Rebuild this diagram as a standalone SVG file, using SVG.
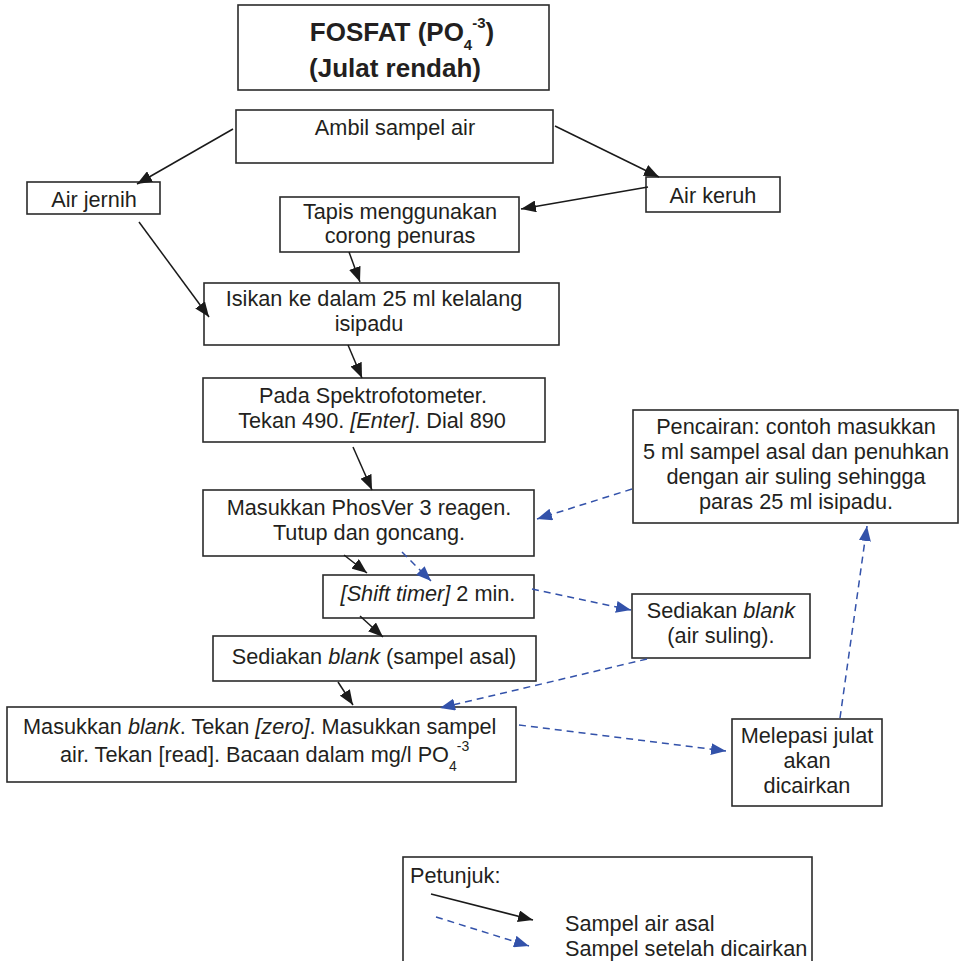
<svg xmlns="http://www.w3.org/2000/svg" width="960" height="961" viewBox="0 0 960 961">
<style>
.box{fill:#fff;stroke:#2b2b2b;stroke-width:1.6}
.t{font-family:"Liberation Sans",Arial,sans-serif;font-size:21.7px;fill:#231f20}
.c{text-anchor:middle}
.b{font-weight:bold;font-size:26px}
.i{font-style:italic}
.s{font-size:14px}
.sb{font-size:15px}
.ln{fill:none;stroke:#1a1a1a;stroke-width:1.5}
.dl{fill:none;stroke:#3352aa;stroke-width:1.5;stroke-dasharray:7 5}
</style>
<defs>
<marker id="ah" markerUnits="userSpaceOnUse" markerWidth="15" markerHeight="12" refX="15" refY="6" orient="auto"><path d="M0,0 L15,6 L0,12 z" fill="#1a1a1a"/></marker>
<marker id="bh" markerUnits="userSpaceOnUse" markerWidth="15" markerHeight="12" refX="15" refY="6" orient="auto"><path d="M0,0 L15,6 L0,12 z" fill="#3352aa"/></marker>
</defs>
<rect width="960" height="961" fill="#fff"/>

<g id="title">
<rect class="box" x="238" y="5" width="311" height="85"/>
<text class="t c b" x="402" y="41">FOSFAT (PO<tspan class="sb" dy="9">4</tspan><tspan class="sb" dy="-22">-3</tspan><tspan dy="13">)</tspan></text>
<text class="t c b" x="395" y="77">(Julat rendah)</text>
</g>

<g id="ambil">
<rect class="box" x="236" y="110" width="317" height="53"/>
<text class="t c" x="395" y="135">Ambil sampel air</text>
</g>

<g id="jernih">
<rect class="box" x="27" y="182" width="133" height="32"/>
<text class="t c" x="94" y="207">Air jernih</text>
</g>

<g id="keruh">
<rect class="box" x="646" y="177" width="134" height="35"/>
<text class="t c" x="713" y="203">Air keruh</text>
</g>

<g id="tapis">
<rect class="box" x="280" y="197" width="239" height="55"/>
<text class="t c" x="400" y="219">Tapis menggunakan</text>
<text class="t c" x="400" y="243">corong penuras</text>
</g>

<g id="isikan">
<rect class="box" x="204" y="283" width="355" height="62"/>
<text class="t c" x="374" y="306">Isikan ke dalam 25 ml kelalang</text>
<text class="t c" x="369" y="331">isipadu</text>
</g>

<g id="pada">
<rect class="box" x="203" y="378" width="342" height="64"/>
<text class="t c" x="373" y="403">Pada Spektrofotometer.</text>
<text class="t c" x="372" y="428">Tekan 490. <tspan class="i">[Enter]</tspan>. Dial 890</text>
</g>

<g id="phosver">
<rect class="box" x="203" y="490" width="331" height="66"/>
<text class="t c" x="369" y="515">Masukkan PhosVer 3 reagen.</text>
<text class="t c" x="369" y="540">Tutup dan goncang.</text>
</g>

<g id="shift">
<rect class="box" x="323" y="575" width="211" height="43"/>
<text class="t c" x="428" y="601"><tspan class="i">[Shift timer]</tspan> 2 min.</text>
</g>

<g id="blankasal">
<rect class="box" x="213" y="636" width="323" height="45"/>
<text class="t c" x="374" y="664">Sediakan <tspan class="i">blank</tspan> (sampel asal)</text>
</g>

<g id="masukblank">
<rect class="box" x="7" y="707" width="509" height="75"/>
<text class="t" x="23" y="734">Masukkan <tspan class="i">blank</tspan>. Tekan <tspan class="i">[zero]</tspan>. Masukkan sampel</text>
<text class="t" x="60" y="762">air. Tekan [read]. Bacaan dalam mg/l PO<tspan class="s" dy="9">4</tspan><tspan class="s" dy="-20">-3</tspan></text>
</g>

<g id="blanksuling">
<rect class="box" x="632" y="594" width="178" height="64"/>
<text class="t c" x="721" y="618">Sediakan <tspan class="i">blank</tspan></text>
<text class="t c" x="721" y="643">(air suling).</text>
</g>

<g id="melepasi">
<rect class="box" x="732" y="719" width="150" height="87"/>
<text class="t c" x="807" y="743">Melepasi julat</text>
<text class="t c" x="807" y="768">akan</text>
<text class="t c" x="807" y="793">dicairkan</text>
</g>

<g id="pencairan">
<rect class="box" x="633" y="410" width="325" height="113"/>
<text class="t c" x="796" y="434">Pencairan: contoh masukkan</text>
<text class="t c" x="796" y="459">5 ml sampel asal dan penuhkan</text>
<text class="t c" x="796" y="484">dengan air suling sehingga</text>
<text class="t c" x="796" y="509">paras 25 ml isipadu.</text>
</g>

<g id="connectors">
<line class="ln" x1="233" y1="129" x2="137" y2="184" marker-end="url(#ah)"/>
<line class="ln" x1="555" y1="126" x2="659" y2="177" marker-end="url(#ah)"/>
<line class="ln" x1="648" y1="187" x2="521" y2="209" marker-end="url(#ah)"/>
<line class="ln" x1="139" y1="222" x2="209" y2="317" marker-end="url(#ah)"/>
<line class="ln" x1="349" y1="252" x2="360" y2="282" marker-end="url(#ah)"/>
<line class="ln" x1="348" y1="345" x2="362" y2="378" marker-end="url(#ah)"/>
<line class="ln" x1="353" y1="447" x2="372" y2="490" marker-end="url(#ah)"/>
<line class="ln" x1="344" y1="555" x2="367" y2="573" marker-end="url(#ah)"/>
<line class="ln" x1="360" y1="616" x2="383" y2="637" marker-end="url(#ah)"/>
<line class="ln" x1="338" y1="682" x2="353" y2="705" marker-end="url(#ah)"/>
<line class="dl" x1="632" y1="489" x2="537" y2="519" marker-end="url(#bh)"/>
<line class="dl" x1="402" y1="552" x2="431" y2="581" marker-end="url(#bh)"/>
<line class="dl" x1="532" y1="589" x2="631" y2="610" marker-end="url(#bh)"/>
<line class="dl" x1="647" y1="659" x2="440" y2="708" marker-end="url(#bh)"/>
<line class="dl" x1="519" y1="725" x2="726" y2="751" marker-end="url(#bh)"/>
<line class="dl" x1="840" y1="718" x2="867" y2="526" marker-end="url(#bh)"/>
</g>

<g id="legend">
<rect class="box" x="403" y="857" width="409" height="110"/>
<text class="t" x="410" y="883">Petunjuk:</text>
<line class="ln" x1="431" y1="894" x2="533" y2="920" marker-end="url(#ah)"/>
<line class="dl" x1="436" y1="917" x2="529" y2="946" marker-end="url(#bh)"/>
<text class="t" x="565" y="931">Sampel air asal</text>
<text class="t" x="565" y="956">Sampel setelah dicairkan</text>
</g>
</svg>
